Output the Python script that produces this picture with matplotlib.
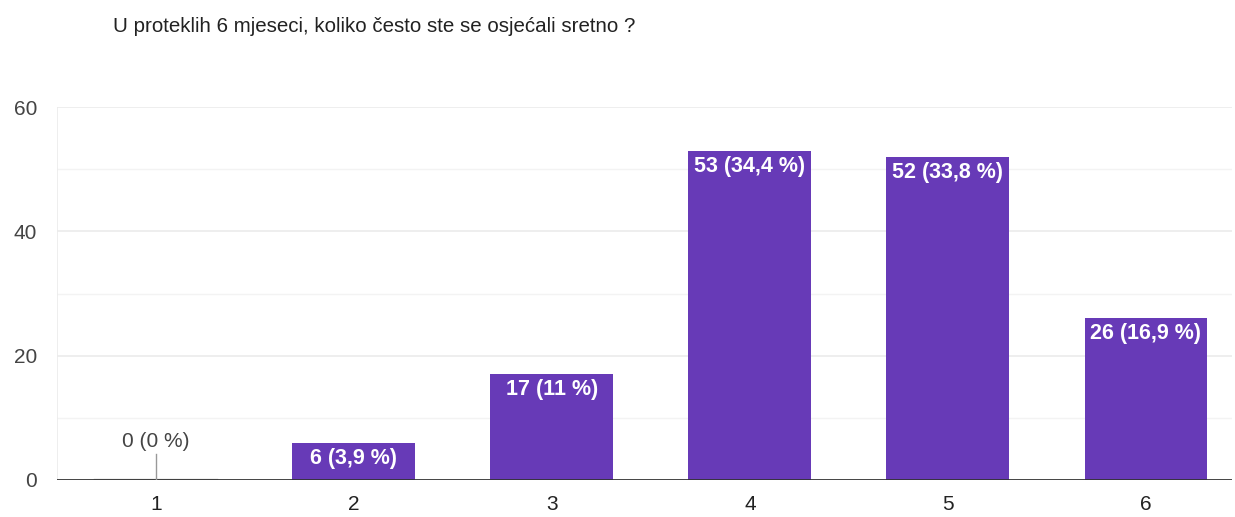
import matplotlib.pyplot as plt

categories = ["1", "2", "3", "4", "5", "6"]
counts = [0, 6, 17, 53, 52, 26]
labels = ["0 (0 %)", "6 (3,9 %)", "17 (11 %)", "53 (34,4 %)", "52 (33,8 %)", "26 (16,9 %)"]
title = "U proteklih 6 mjeseci, koliko često ste se osjećali sretno ?"

plt.rcParams["font.family"] = ["Liberation Sans", "DejaVu Sans"]

fig = plt.figure(figsize=(12.35, 5.17), dpi=100)
ax = fig.add_axes([0.046, 0.0716, 0.9516, 0.7214])

x = list(range(1, len(categories) + 1))
purple = "#673ab7"
ax.bar(x, counts, width=0.62, color=purple, zorder=3)

ax.set_xlim(0.5, 6.435)
ax.set_ylim(0, 60)

# grid lines, lighter at the odd tens
for v in [10, 30, 50]:
    ax.axhline(v, color="#f3f3f3", lw=1, zorder=1)
for v in [20, 40, 60]:
    ax.axhline(v, color="#ebebeb", lw=1.2, zorder=1)
ax.axvline(0.5, color="#ebebeb", lw=1.2, zorder=1)
ax.plot([0.69, 1.31], [0.15, 0.15], color="#bbbbbb", lw=1, zorder=3)
ax.axhline(0, color="#333333", lw=2, zorder=4)

for xi, c, lab in zip(x, counts, labels):
    if c == 0:
        ax.plot([xi, xi], [0, 4.2], color="#999999", lw=1, zorder=4)
        ax.text(xi, 4.7, lab, ha="center", va="bottom", fontsize=15,
                color="#444444")
    else:
        ax.text(xi, c - 2.5, lab, ha="center", va="center", fontsize=15.5,
                color="white", fontweight="bold")

ax.set_xticks(x)
ax.set_xticklabels(categories)
ax.set_yticks([0, 20, 40, 60])
ax.tick_params(axis="x", length=0, labelsize=15, colors="#222222", pad=11)
ax.tick_params(axis="y", length=0, labelsize=15, colors="#444444", pad=14)
for s in ax.spines.values():
    s.set_visible(False)

fig.text(113 / 1235, 1 - 26 / 517, title, ha="left", va="center",
         fontsize=14.8, color="#222222")

fig.savefig("out.png", dpi=100)
